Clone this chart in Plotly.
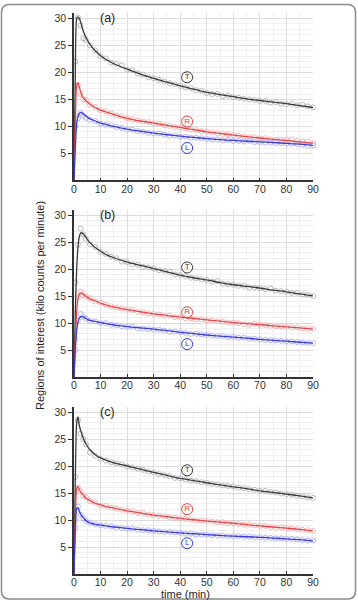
import plotly.graph_objects as go

# ---------------- data ----------------
fit_t = [0, 0.5, 1, 1.5, 2, 2.5, 3, 4, 5, 6, 8, 10, 12.5, 15, 20, 25, 30, 35, 40, 45,
         50, 55, 60, 65, 70, 75, 80, 85, 90]

fit_a_T = [0, 20, 30.0, 30.3, 30.0, 29.3, 28.4, 27.0, 26.0, 25.2, 24.0, 23.1, 22.3, 21.6, 20.6,
           19.7, 18.9, 18.2, 17.5, 16.9, 16.3, 15.9, 15.5, 15.1, 14.8, 14.5, 14.2, 13.85, 13.5]
fit_a_R = [0, 11, 17.5, 18.1, 17.3, 16.4, 15.7, 15.0, 14.5, 14.1, 13.5, 13.0, 12.6, 12.2, 11.5,
           11.0, 10.6, 10.2, 9.8, 9.4, 9.0, 8.7, 8.4, 8.1, 7.85, 7.6, 7.4, 7.15, 6.9]
fit_a_L = [0, 6, 10.5, 11.8, 12.4, 12.6, 12.5, 12.1, 11.7, 11.4, 11.0, 10.6, 10.3, 10.0, 9.5,
           9.1, 8.75, 8.45, 8.2, 7.95, 7.75, 7.55, 7.4, 7.25, 7.15, 7.0, 6.85, 6.7, 6.5]

fit_b_T = [0, 12, 20, 24, 26, 26.7, 26.7, 26.2, 25.5, 24.9, 24.0, 23.3, 22.6, 22.1, 21.3,
           20.7, 20.1, 19.5, 18.9, 18.4, 18.0, 17.5, 17.1, 16.8, 16.5, 16.1, 15.8, 15.4, 15.05]
fit_b_R = [0, 7, 12, 14.5, 15.3, 15.6, 15.5, 15.1, 14.8, 14.5, 14.1, 13.7, 13.3, 13.0, 12.5,
           12.1, 11.7, 11.4, 11.1, 10.85, 10.6, 10.35, 10.1, 9.9, 9.7, 9.5, 9.3, 9.1, 8.9]
fit_b_L = [0, 5, 8.5, 10.2, 10.9, 11.2, 11.2, 11.0, 10.7, 10.5, 10.3, 10.1, 9.85, 9.65, 9.35,
           9.1, 8.9, 8.6, 8.3, 8.05, 7.8, 7.6, 7.4, 7.2, 7.0, 6.8, 6.65, 6.45, 6.3]

fit_c_T = [0, 18, 28, 29.1, 27.5, 26.6, 25.8, 24.6, 23.7, 23.0, 22.1, 21.5, 21.0, 20.6, 20.0,
           19.4, 18.8, 18.25, 17.7, 17.3, 16.9, 16.5, 16.15, 15.8, 15.4, 15.1, 14.8, 14.45, 14.1]
fit_c_R = [0, 10, 15.8, 16.2, 15.6, 15.2, 14.9, 14.3, 13.9, 13.6, 13.1, 12.8, 12.45, 12.2, 11.7,
           11.3, 10.9, 10.6, 10.3, 10.05, 9.8, 9.6, 9.4, 9.15, 8.9, 8.7, 8.5, 8.25, 8.0]
fit_c_L = [0, 8, 12.1, 12.3, 11.6, 11.1, 10.7, 10.1, 9.7, 9.45, 9.2, 9.05, 8.85, 8.7, 8.45,
           8.2, 8.0, 7.8, 7.6, 7.45, 7.3, 7.15, 7.0, 6.9, 6.8, 6.65, 6.5, 6.35, 6.15]

obs_t = [0.5, 1.5, 2.5, 3.5, 4.5,
         6, 8, 10, 12, 14, 16, 18, 20, 22, 24, 26, 28, 30, 32, 34, 36, 38, 40, 42, 44,
         46, 48, 50, 52, 54, 56, 58, 60, 62, 64, 66, 68, 70, 72, 74, 76, 78, 80, 82, 84,
         86, 88, 90]

obs_a_T = [22.0, 30.2, 28.7, 26.3, 26.0,
           25.0, 24.1, 23.0, 22.6, 21.8, 21.6, 21.3, 20.5, 20.4, 19.8, 19.6, 19.1, 18.9, 18.6, 18.3,
           18.0, 17.8, 17.5, 17.2, 17.1, 16.7, 16.6, 16.2, 16.0, 16.0, 15.6, 15.7, 15.4, 15.3, 15.1,
           15.0, 14.9, 14.7, 14.7, 14.4, 14.5, 14.2, 14.1, 14.2, 13.9, 14.0, 13.7, 13.5]
obs_a_R = [12.0, 17.6, 16.0, 15.0, 14.9,
           14.0, 13.6, 13.0, 12.8, 12.4, 12.0, 11.9, 11.5, 11.3, 11.1, 10.9, 10.8, 10.6, 10.5, 10.2,
           10.1, 9.9, 9.8, 9.7, 9.4, 9.3, 9.1, 9.0, 8.9, 8.7, 8.6, 8.5, 8.4, 8.3, 8.1,
           8.0, 8.0, 7.8, 7.8, 7.6, 7.5, 7.5, 7.5, 7.6, 7.3, 7.2, 7.2, 6.9]
obs_a_L = [10.0, 11.5, 12.5, 12.0, 11.6,
           11.2, 11.0, 10.5, 10.3, 10.2, 9.9, 9.7, 9.4, 9.4, 9.1, 9.0, 8.8, 8.7, 8.7, 8.5,
           8.3, 8.3, 8.1, 8.1, 7.9, 7.9, 7.8, 7.7, 7.6, 7.6, 7.4, 7.5, 7.3, 7.3, 7.2,
           7.3, 7.1, 7.1, 7.0, 7.0, 6.9, 6.9, 6.8, 6.8, 6.7, 6.6, 6.4, 6.5]

obs_b_T = [17.5, 24.5, 27.5, 26.4, 25.6,
           24.6, 24.1, 23.2, 22.8, 22.3, 22.0, 21.4, 21.3, 20.9, 20.8, 20.4, 20.3, 20.1, 19.8, 19.7,
           19.5, 19.0, 18.9, 18.7, 18.4, 18.3, 18.1, 18.0, 17.7, 17.8, 17.3, 17.2, 17.1, 16.9, 16.9,
           16.6, 16.6, 16.5, 16.3, 16.4, 16.0, 15.9, 15.8, 15.6, 15.6, 15.3, 15.2, 15.0]
obs_b_R = [7.0, 14.8, 15.8, 15.2, 14.9,
           14.6, 14.0, 13.8, 13.4, 13.1, 12.9, 12.7, 12.5, 12.4, 12.1, 12.0, 11.8, 11.7, 11.6, 11.4,
           11.4, 11.1, 11.1, 10.9, 10.9, 10.7, 10.7, 10.5, 10.5, 10.3, 10.3, 10.1, 10.1, 10.0, 9.8,
           9.7, 9.9, 9.7, 9.6, 9.5, 9.4, 9.4, 9.3, 9.2, 9.2, 9.0, 8.9, 8.9]
obs_b_L = [5.0, 10.5, 11.7, 11.1, 10.8,
           10.4, 10.3, 10.0, 10.0, 9.7, 9.6, 9.4, 9.3, 9.3, 9.0, 9.0, 8.9, 8.8, 8.8, 8.6,
           8.4, 8.4, 8.3, 8.2, 8.0, 8.0, 7.9, 7.8, 7.7, 7.6, 7.6, 7.4, 7.4, 7.3, 7.3,
           7.1, 7.1, 7.0, 6.9, 6.8, 6.8, 6.7, 6.6, 6.6, 6.5, 6.4, 6.3, 6.3]

obs_c_T = [18.0, 28.5, 26.0, 25.0, 24.0,
           22.5, 21.9, 21.3, 21.0, 20.7, 20.5, 20.3, 19.9, 19.7, 19.5, 19.3, 19.0, 18.8, 18.5, 18.3,
           18.1, 17.8, 17.7, 17.5, 17.3, 17.2, 17.0, 16.9, 16.7, 16.6, 16.4, 16.3, 16.2, 16.0, 15.9,
           15.7, 15.6, 15.4, 15.4, 15.2, 15.1, 14.9, 14.8, 14.7, 14.5, 14.4, 14.2, 14.1]
obs_c_R = [10.0, 16.0, 15.3, 14.5, 14.2,
           13.5, 13.2, 12.7, 12.6, 12.3, 12.1, 11.9, 11.7, 11.6, 11.3, 11.3, 11.0, 10.9, 10.8, 10.7,
           10.5, 10.4, 10.3, 10.2, 10.1, 9.9, 9.9, 9.8, 9.7, 9.6, 9.6, 9.4, 9.4, 9.3, 9.1,
           9.1, 9.0, 8.9, 8.9, 8.7, 8.6, 8.6, 8.5, 8.4, 8.3, 8.2, 8.1, 8.0]
obs_c_L = [8.5, 12.5, 11.0, 10.3, 9.8,
           9.5, 9.2, 9.0, 8.9, 8.8, 8.6, 8.5, 8.4, 8.4, 8.2, 8.1, 8.1, 8.0, 7.9, 7.8,
           7.8, 7.7, 7.6, 7.5, 7.5, 7.3, 7.3, 7.3, 7.2, 7.1, 7.1, 7.0, 7.0, 7.0, 6.9,
           6.9, 6.8, 6.8, 6.7, 6.7, 6.6, 6.6, 6.5, 6.5, 6.4, 6.3, 6.2, 6.2]

panel_labels = ["(a)", "(b)", "(c)"]
region_names = ["T", "R", "L"]
# circled-letter label values (y) per panel for T, R, L
tag_a = [19.1, 10.9, 6.0]
tag_b = [20.3, 12.0, 6.1]
tag_c = [19.2, 12.0, 5.7]
tag_time = 42.6

x_ticks = [0, 10, 20, 30, 40, 50, 60, 70, 80, 90]
y_ticks = [5, 10, 15, 20, 25, 30]

# ---------------- styling ----------------
line_col = {"T": "#3a3a3a", "R": "#e0474c", "L": "#3b3bd6"}
mark_col = {"T": "#ababab", "R": "#f2a5a5", "L": "#a5a5f2"}

panels = [
    ("a", [fit_a_T, fit_a_R, fit_a_L], [obs_a_T, obs_a_R, obs_a_L], tag_a),
    ("b", [fit_b_T, fit_b_R, fit_b_L], [obs_b_T, obs_b_R, obs_b_L], tag_b),
    ("c", [fit_c_T, fit_c_R, fit_c_L], [obs_c_T, obs_c_R, obs_c_L], tag_c),
]

W, H = 358, 600
ML, MR, MT, MB = 74, 45, 13, 26
PW, PH = W - ML - MR, H - MT - MB

def px2paper(px, py):
    return (px - ML) / PW, (H - MB - py) / PH

ph = 167.4 / PH
gap = 29.3 / PH
domains = [[1 - ph, 1.0], [1 - 2 * ph - gap, 1 - ph - gap], [0.0, ph]]

fig = go.Figure()
font_fam = "Liberation Sans, Arial, sans-serif"

for i, (key, fits, obss, tags) in enumerate(panels):
    xa = "x" if i == 0 else f"x{i+1}"
    ya = "y" if i == 0 else f"y{i+1}"
    for name, obs in zip(region_names, obss):
        fig.add_trace(go.Scatter(
            x=obs_t, y=obs, mode="markers", xaxis=xa, yaxis=ya, showlegend=False,
            marker=dict(symbol="circle-open", size=5, color=mark_col[name],
                        line=dict(width=0.8, color=mark_col[name])),
            cliponaxis=False))
    for name, fit in zip(region_names, fits):
        fig.add_trace(go.Scatter(
            x=fit_t, y=fit, mode="lines", xaxis=xa, yaxis=ya, showlegend=False,
            line=dict(color=line_col[name], width=1.3, shape="spline", smoothing=0.6)))
    # circled tags
    fig.add_trace(go.Scatter(
        x=[tag_time] * 3, y=tags, mode="markers+text", xaxis=xa, yaxis=ya,
        showlegend=False, text=region_names, textposition="middle center",
        textfont=dict(size=8, color=[line_col[n] for n in region_names], family=font_fam),
        marker=dict(symbol="circle-open", size=11,
                    color=[line_col[n] for n in region_names],
                    line=dict(width=1, color=[line_col[n] for n in region_names]))))
    axis_common = dict(showline=True, linecolor="#333333", linewidth=1.5,
                       tickcolor="#333333",
                       tickfont=dict(size=10.5, color="#333333", family=font_fam),
                       showgrid=True, gridcolor="#dcdcdc", gridwidth=0.8, zeroline=False)
    xkey = "xaxis" if i == 0 else f"xaxis{i+1}"
    ykey = "yaxis" if i == 0 else f"yaxis{i+1}"
    fig.update_layout(**{
        xkey: dict(axis_common, range=[0, 90], tickvals=x_ticks, domain=[0, 1], anchor=ya,
                   ticks="inside", ticklen=3, ticklabelstandoff=-2,
                   minor=dict(dtick=5, showgrid=True, gridcolor="#eeeeee", gridwidth=0.8)),
        ykey: dict(axis_common, range=[0, 31], tickvals=y_ticks, domain=domains[i], anchor=xa,
                   ticks="outside", ticklen=4,
                   minor=dict(dtick=1, showgrid=True, gridcolor="#f0f0f0", gridwidth=0.8)),
    })
    fig.add_annotation(x=12.7, y=30, xref=xa, yref=ya, text=panel_labels[i],
                       xanchor="center", yanchor="middle",
                       showarrow=False, font=dict(size=12.5, color="#222222", family=font_fam))

# axis titles
tx, ty = px2paper(185, 594)
fig.add_annotation(x=tx, y=ty, xref="paper", yref="paper", text="time (min)",
                   xanchor="center", yanchor="middle",
                   showarrow=False, font=dict(size=11, color="#222222", family=font_fam))
yx, yy = px2paper(40, 306)
fig.add_annotation(x=yx, y=yy, xref="paper", yref="paper",
                   text="Regions of interest (kilo counts per minute)", textangle=-90,
                   xanchor="center", yanchor="middle",
                   showarrow=False, font=dict(size=11, color="#222222", family=font_fam))

# rounded border
x0, y0 = px2paper(1.5, 4.5)
x1, y1 = px2paper(355.5, 599)
rx = 8 / PW
ry = 8 / PH
path = (f"M {x0+rx},{y0} L {x1-rx},{y0} Q {x1},{y0} {x1},{y0-ry} "
        f"L {x1},{y1+ry} Q {x1},{y1} {x1-rx},{y1} L {x0+rx},{y1} Q {x0},{y1} {x0},{y1+ry} "
        f"L {x0},{y0-ry} Q {x0},{y0} {x0+rx},{y0} Z")
fig.add_shape(type="path", path=path, xref="paper", yref="paper",
              line=dict(color="#8a8a8a", width=1.5))

fig.update_layout(width=W, height=H, margin=dict(l=ML, r=MR, t=MT, b=MB),
                  paper_bgcolor="white", plot_bgcolor="white",
                  font=dict(family=font_fam))

fig.write_html("out.html")
